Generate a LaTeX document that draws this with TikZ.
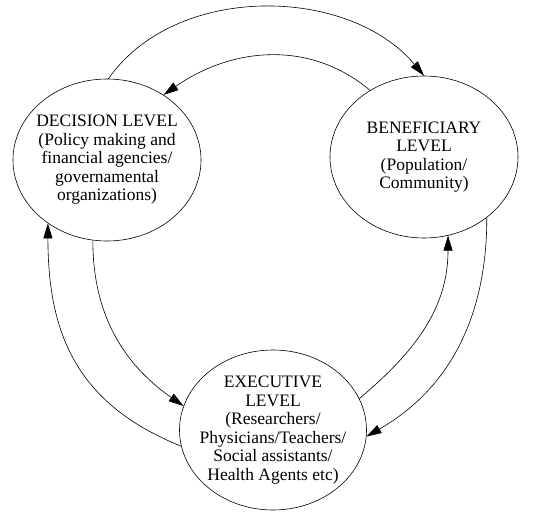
\documentclass[tikz,border=0pt]{standalone}
\usepackage{fontspec}
\setmainfont{Liberation Serif}
\usepackage{tikz}
\usetikzlibrary{arrows.meta,shapes.geometric}

\begin{document}
\begin{tikzpicture}[x = 1pt, y = 1pt,
	level/.style = {draw, ellipse, line width = 0.6pt, align = center, inner xsep = -30pt, inner ysep = -20pt,
		font = \fontsize{17.5}{18.5}\selectfont},
	arr/.style = {line width = 0.6pt, -{Triangle[length = 15pt, width = 9pt]}}]
			\useasboundingbox (0,0) rectangle (538,512);
			\node (dec) at (107,352) [level, minimum width = 188pt, minimum height = 162pt] {DECISION LEVEL\\(Policy making and\\financial agencies/\\governamental\\organizations)};
			\node (ben) at (424,355) [level, minimum width = 188pt, minimum height = 162pt] {BENEFICIARY\\LEVEL\\(Population/\\Community)};
			\node (exe) at (273,82) [level, minimum width = 187pt, minimum height = 160pt] {EXECUTIVE\\LEVEL\\(Researchers/\\Physicians/Teachers/\\Social assistants/\\Health Agents etc)};
			\draw (dec.89) edge[arr, out = 55, in = 130, looseness = 0.95] (ben.90);
			\draw (ben.129) edge[arr, out = 140, in = 35] (dec.49);
			\draw (exe.190) edge[arr, out = 158, in = 270, looseness = 1.1] (dec.227);
			\draw (dec.260) edge[arr, out = 270, in = 145] (exe.165);
			\draw (exe.20) edge[arr, out = 40, in = 270] (ben.287);
			\draw (ben.316) edge[arr, out = 270, in = 30] (exe.356);
			\end{tikzpicture}
\end{document}
